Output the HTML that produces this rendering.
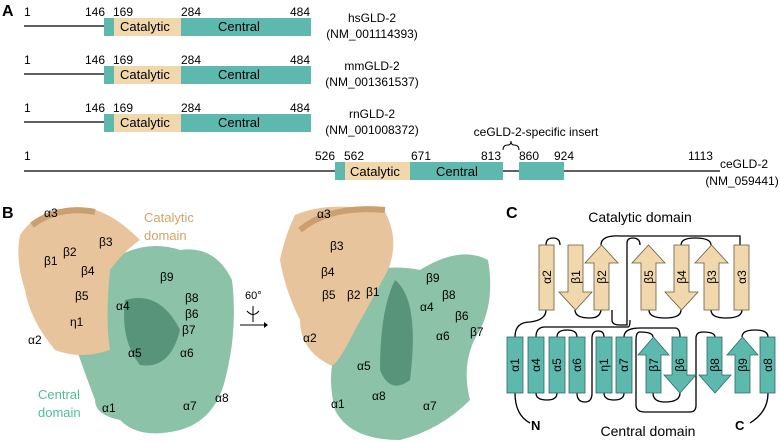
<!DOCTYPE html>
<html><head><meta charset="utf-8"><style>
html,body{margin:0;padding:0;background:#fff;}
svg{display:block;font-family:"Liberation Sans",Arial,sans-serif;}
</style></head><body>
<svg width="780" height="443" viewBox="0 0 780 443" xmlns="http://www.w3.org/2000/svg">
<defs>
<g id="row">
<line x1="24" y1="26" x2="104" y2="26" stroke="#000" stroke-width="1.2"/>
<rect x="104" y="18" width="10" height="18" fill="#5db8ad"/>
<rect x="114" y="18" width="67" height="18" fill="#f0d8ac"/>
<rect x="181" y="18" width="130" height="18" fill="#5db8ad"/>
<text x="120" y="31" font-size="13">Catalytic</text>
<text x="218" y="31" font-size="13">Central</text>
<text x="24" y="16" font-size="12">1</text>
<text x="85" y="16" font-size="12">146</text>
<text x="113" y="16" font-size="12">169</text>
<text x="181" y="16" font-size="12">284</text>
<text x="290" y="16" font-size="12">484</text>
</g>
</defs>
<text x="2" y="16" font-size="16" font-weight="bold">A</text>
<use href="#row"/>
<text x="372" y="22" font-size="12" text-anchor="middle">hsGLD-2</text>
<text x="372" y="38" font-size="12" text-anchor="middle">(NM_001114393)</text>
<use href="#row" y="48"/>
<text x="372" y="70" font-size="12" text-anchor="middle">mmGLD-2</text>
<text x="372" y="86" font-size="12" text-anchor="middle">(NM_001361537)</text>
<use href="#row" y="96"/>
<text x="372" y="118" font-size="12" text-anchor="middle">rnGLD-2</text>
<text x="372" y="134" font-size="12" text-anchor="middle">(NM_001008372)</text>

<line x1="24" y1="171" x2="720" y2="171" stroke="#000" stroke-width="1.2"/>
<rect x="335" y="162" width="10" height="18" fill="#5db8ad"/>
<rect x="345" y="162" width="65" height="18" fill="#f0d8ac"/>
<rect x="410" y="162" width="93" height="18" fill="#5db8ad"/>
<rect x="519" y="162" width="45" height="18" fill="#5db8ad"/>
<text x="350" y="176" font-size="13">Catalytic</text>
<text x="436" y="176" font-size="13">Central</text>
<text x="24" y="160" font-size="12">1</text>
<text x="315" y="160" font-size="12">526</text>
<text x="344" y="160" font-size="12">562</text>
<text x="411" y="160" font-size="12">671</text>
<text x="481" y="160" font-size="12">813</text>
<text x="519" y="160" font-size="12">860</text>
<text x="554" y="160" font-size="12">924</text>
<text x="688" y="160" font-size="12">1113</text>
<text x="536" y="136" font-size="12" text-anchor="middle">ceGLD-2-specific insert</text>
<path d="M503 150 Q503 145 508 145 Q511 145 511 141 Q511 145 514 145 Q519 145 519 150" fill="none" stroke="#000" stroke-width="1"/>
<text x="744" y="168" font-size="12" text-anchor="middle">ceGLD-2</text>
<text x="742" y="185" font-size="12" text-anchor="middle">(NM_059441)</text>

<!-- Panel B -->
<text x="2" y="218" font-size="16" font-weight="bold">B</text>
<g opacity="0.95">
<path d="M70 290 Q90 250 120 255 Q150 240 180 250 Q215 245 232 280 Q238 330 225 380 Q215 420 180 430 Q140 440 120 420 Q95 415 95 400 Q80 360 70 330 Z" fill="#86bfa3"/>
<path d="M125 300 Q160 290 180 330 Q170 370 140 365 Q120 340 125 300 Z" fill="#4f8f73"/>
<path d="M20 235 Q40 205 85 208 Q110 210 140 240 Q125 250 110 270 Q105 320 110 350 Q80 360 55 350 Q30 320 25 290 Q15 260 20 235 Z" fill="#e6c197"/>
<path d="M32 225 Q60 205 95 212" stroke="#c99a68" stroke-width="6" fill="none"/>
</g>
<text x="44" y="217" font-size="12">α3</text>
<text x="144" y="222" font-size="13" fill="#d4a46a">Catalytic</text>
<text x="144" y="240" font-size="13" fill="#d4a46a">domain</text>
<text x="99" y="246" font-size="12">β3</text>
<text x="63" y="256" font-size="12">β2</text>
<text x="44" y="265" font-size="12">β1</text>
<text x="81" y="275" font-size="12">β4</text>
<text x="75" y="300" font-size="12">β5</text>
<text x="160" y="281" font-size="12">β9</text>
<text x="185" y="302" font-size="12">β8</text>
<text x="185" y="318" font-size="12">β6</text>
<text x="116" y="310" font-size="12">α4</text>
<text x="70" y="326" font-size="12">η1</text>
<text x="182" y="334" font-size="12">β7</text>
<text x="28" y="344" font-size="12">α2</text>
<text x="128" y="357" font-size="12">α5</text>
<text x="180" y="357" font-size="12">α6</text>
<text x="38" y="399" font-size="13" fill="#4fbf93">Central</text>
<text x="38" y="417" font-size="13" fill="#4fbf93">domain</text>
<text x="102" y="412" font-size="12">α1</text>
<text x="183" y="410" font-size="12">α7</text>
<text x="215" y="402" font-size="12">α8</text>
<!-- rotation -->
<text x="245" y="299" font-size="11">60°</text>
<line x1="253" y1="306" x2="253" y2="322" stroke="#000" stroke-width="1"/>
<path d="M247 311 Q253 318 259 311" fill="none" stroke="#000" stroke-width="1"/>
<line x1="240" y1="325" x2="264" y2="325" stroke="#000" stroke-width="1"/>
<path d="M264 322 L268 325 L264 328 Z" fill="#000"/>
<g opacity="0.95">
<path d="M340 290 Q370 260 420 270 Q460 245 488 260 Q495 300 480 330 Q460 360 470 400 Q440 430 400 440 Q350 440 335 410 Q325 370 340 340 Z" fill="#86bfa3"/>
<path d="M395 280 Q420 300 410 380 Q390 395 380 370 Q380 310 395 280 Z" fill="#4f8f73"/>
<path d="M295 215 Q330 200 385 212 Q400 240 388 270 Q372 300 355 330 Q335 370 330 365 Q300 350 300 320 Q285 290 280 260 Q285 235 295 215 Z" fill="#e6c197"/>
<path d="M300 230 Q330 205 385 210" stroke="#c99a68" stroke-width="6" fill="none"/>
</g>
<text x="317" y="218" font-size="12">α3</text>
<text x="330" y="250" font-size="12">β3</text>
<text x="321" y="276" font-size="12">β4</text>
<text x="322" y="299" font-size="12">β5</text>
<text x="347" y="299" font-size="12">β2</text>
<text x="366" y="296" font-size="12">β1</text>
<text x="426" y="282" font-size="12">β9</text>
<text x="442" y="299" font-size="12">β8</text>
<text x="420" y="311" font-size="12">α4</text>
<text x="455" y="320" font-size="12">β6</text>
<text x="470" y="336" font-size="12">β7</text>
<text x="303" y="342" font-size="12">α2</text>
<text x="436" y="340" font-size="12">α6</text>
<text x="357" y="370" font-size="12">α5</text>
<text x="331" y="408" font-size="12">α1</text>
<text x="372" y="400" font-size="12">α8</text>
<text x="423" y="410" font-size="12">α7</text>

<!-- Panel C -->
<text x="506" y="218" font-size="16" font-weight="bold">C</text>
<text x="640" y="222" font-size="14" text-anchor="middle">Catalytic domain</text>
<text x="648" y="436" font-size="14" text-anchor="middle">Central domain</text>
<text x="531" y="430" font-size="13" font-weight="bold">N</text>
<text x="735" y="430" font-size="13" font-weight="bold">C</text>
<g fill="none" stroke="#000" stroke-width="1.3">
<path d="M546 245 Q546 238 553 238 Q560 238 560 245"/>
<path d="M575 310 Q575 318 590 318 Q600 318 601 310"/>
<path d="M601 245 Q601 235 620 236 L740 236 Q740 236 740 245"/>
<path d="M612 310 L612 320 Q612 325 620 325 L627 325 L627 243 Q627 238 633 238 Q640 238 640 245"/>
<path d="M649 310 Q649 318 665 318 Q681 318 681 310"/>
<path d="M681 245 Q681 238 695 238 Q711 238 711 245"/>
<path d="M711 310 Q711 318 726 318 Q742 318 742 310"/>
<path d="M546 310 Q546 320 530 322 Q515 322 515 337"/>
<path d="M536 337 Q536 327 545 327 L628 327 Q630 327 630 320"/>
<path d="M515 393 Q515 415 530 423"/>
<path d="M536 393 Q536 400 547 400 Q557 400 557 393"/>
<path d="M557 337 Q557 330 567 330 Q577 330 577 337"/>
<path d="M577 393 Q577 402 585 402 Q592 402 592 393 L592 338 Q592 331 598 331 Q604 331 604 337"/>
<path d="M604 393 Q604 400 614 400 Q624 400 624 393"/>
<path d="M624 337 Q624 328 640 328 L675 328 Q680 328 680 337"/>
<path d="M653 337 Q653 332 640 332 Q636 332 636 340 L636 405 Q636 412 645 412 L690 412 Q696 412 696 405 L696 338 Q696 332 703 332 Q715 332 715 337"/>
<path d="M653 393 Q653 402 665 402 Q680 402 680 393"/>
<path d="M742 337 Q742 330 755 330 Q768 330 768 337"/>
<path d="M768 393 Q768 412 750 423"/>
</g>
<g stroke="#6b5a3d" stroke-width="0.8" fill="#f0d8ac">
<rect x="539" y="245" width="15" height="65"/>
<path d="M568 245 L583 245 L583 292 L592 292 L575.5 310 L559 292 L568 292 Z"/>
<path d="M594 310 L609 310 L609 263 L618 263 L601.5 245 L585 263 L594 263 Z"/>
<path d="M641 310 L656 310 L656 263 L665 263 L648.5 245 L632 263 L641 263 Z"/>
<path d="M674 245 L689 245 L689 292 L698 292 L681.5 310 L665 292 L674 292 Z"/>
<path d="M704 310 L719 310 L719 263 L728 263 L711.5 245 L695 263 L704 263 Z"/>
<rect x="734" y="245" width="15" height="65"/>
</g>
<g stroke="#2f6b63" stroke-width="0.8" fill="#5db8ad">
<rect x="507" y="337" width="16" height="56"/>
<rect x="528" y="337" width="16" height="56"/>
<rect x="549" y="337" width="16" height="56"/>
<rect x="569" y="337" width="16" height="56"/>
<rect x="596" y="337" width="16" height="56"/>
<rect x="616" y="337" width="16" height="56"/>
<path d="M646 393 L661 393 L661 355 L669 355 L653.5 337 L638 355 L646 355 Z"/>
<path d="M672 337 L687 337 L687 375 L696 375 L680 393 L664 375 L672 375 Z"/>
<path d="M707 337 L722 337 L722 375 L731 375 L715 393 L699 375 L707 375 Z"/>
<path d="M735 393 L750 393 L750 355 L758 355 L742.5 337 L727 355 L735 355 Z"/>
<rect x="760" y="337" width="15" height="56"/>
</g>
<g font-size="12" text-anchor="middle">
<text transform="translate(551,277) rotate(-90)">α2</text>
<text transform="translate(580,277) rotate(-90)">β1</text>
<text transform="translate(606,277) rotate(-90)">β2</text>
<text transform="translate(653,277) rotate(-90)">β5</text>
<text transform="translate(686,277) rotate(-90)">β4</text>
<text transform="translate(716,277) rotate(-90)">β3</text>
<text transform="translate(746,277) rotate(-90)">α3</text>
<text transform="translate(519,365) rotate(-90)">α1</text>
<text transform="translate(540,365) rotate(-90)">α4</text>
<text transform="translate(561,365) rotate(-90)">α5</text>
<text transform="translate(581,365) rotate(-90)">α6</text>
<text transform="translate(608,365) rotate(-90)">η1</text>
<text transform="translate(628,365) rotate(-90)">α7</text>
<text transform="translate(658,365) rotate(-90)">β7</text>
<text transform="translate(684,365) rotate(-90)">β6</text>
<text transform="translate(719,365) rotate(-90)">β8</text>
<text transform="translate(747,365) rotate(-90)">β9</text>
<text transform="translate(772,365) rotate(-90)">α8</text>
</g>
</svg>
</body></html>
